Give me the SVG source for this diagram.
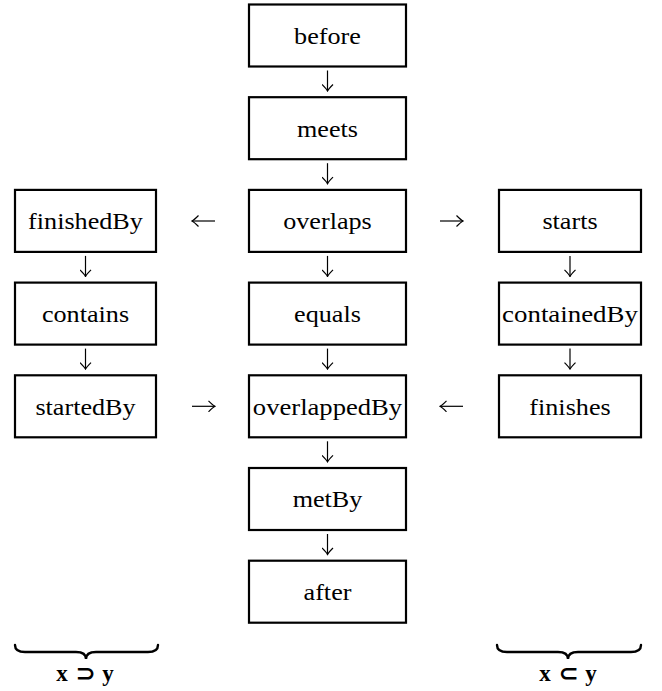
<svg xmlns="http://www.w3.org/2000/svg" width="662" height="691" viewBox="0 0 662 691">
<style>
.box{fill:#fff;stroke:#000;stroke-width:2.2}
text{font-family:'Liberation Serif','Times New Roman',Times,serif}
.lbl{font-size:24px;fill:#000;text-anchor:middle}
.math{font-size:23px;font-weight:bold;fill:#000;text-anchor:middle;word-spacing:2px}
.arr{stroke:#000;stroke-width:1.2;fill:none;marker-end:url(#ah)}
.brace{stroke:#000;stroke-width:2.4;fill:none;stroke-linecap:round}
</style>
<defs>
<marker id="ah" viewBox="-8 -6 9 12" refX="0" refY="0" markerUnits="userSpaceOnUse" markerWidth="9" markerHeight="12" orient="auto">
<path d="M-6.5,-5.5 Q-2,-1 0,0 Q-2,1 -6.5,5.5" fill="none" stroke="#000" stroke-width="1.2"/>
</marker>
</defs>
<rect width="662" height="691" fill="#fff"/>
<g font-family="Liberation Serif, serif">
<g id="before"><rect class="box" x="249" y="4.5" width="157" height="62"/><text class="lbl" transform="translate(327.5,43.8) scale(1.09,1)">before</text></g>
<g id="meets"><rect class="box" x="249" y="97.2" width="157" height="62"/><text class="lbl" transform="translate(327.5,136.5) scale(1.09,1)">meets</text></g>
<g id="overlaps"><rect class="box" x="249" y="189.9" width="157" height="62"/><text class="lbl" transform="translate(327.5,229.2) scale(1.09,1)">overlaps</text></g>
<g id="equals"><rect class="box" x="249" y="282.6" width="157" height="62"/><text class="lbl" transform="translate(327.5,321.9) scale(1.09,1)">equals</text></g>
<g id="overlappedBy"><rect class="box" x="249" y="375.3" width="157" height="62"/><text class="lbl" transform="translate(327.5,414.6) scale(1.11,1)">overlappedBy</text></g>
<g id="metBy"><rect class="box" x="249" y="468" width="157" height="62"/><text class="lbl" transform="translate(327.5,507.3) scale(1.09,1)">metBy</text></g>
<g id="after"><rect class="box" x="249" y="560.7" width="157" height="62"/><text class="lbl" transform="translate(327.5,600) scale(1.09,1)">after</text></g>
<g id="finishedBy"><rect class="box" x="15" y="189.9" width="141" height="62"/><text class="lbl" transform="translate(85.5,229.2) scale(1.09,1)">finishedBy</text></g>
<g id="contains"><rect class="box" x="15" y="282.6" width="141" height="62"/><text class="lbl" transform="translate(85.5,321.9) scale(1.09,1)">contains</text></g>
<g id="startedBy"><rect class="box" x="15" y="375.3" width="141" height="62"/><text class="lbl" transform="translate(85.5,414.6) scale(1.09,1)">startedBy</text></g>
<g id="starts"><rect class="box" x="499" y="189.9" width="142" height="62"/><text class="lbl" transform="translate(570,229.2) scale(1.09,1)">starts</text></g>
<g id="containedBy"><rect class="box" x="499" y="282.6" width="142" height="62"/><text class="lbl" transform="translate(570,321.9) scale(1.12,1)">containedBy</text></g>
<g id="finishes"><rect class="box" x="499" y="375.3" width="142" height="62"/><text class="lbl" transform="translate(570,414.6) scale(1.09,1)">finishes</text></g>
</g>
<g id="connectors">
<line class="arr" x1="327.5" y1="70.5" x2="327.5" y2="91"/>
<line class="arr" x1="327.5" y1="163.2" x2="327.5" y2="183.7"/>
<line class="arr" x1="327.5" y1="255.9" x2="327.5" y2="276.4"/>
<line class="arr" x1="327.5" y1="348.6" x2="327.5" y2="369.1"/>
<line class="arr" x1="327.5" y1="441.3" x2="327.5" y2="461.8"/>
<line class="arr" x1="327.5" y1="534" x2="327.5" y2="554.5"/>
<line class="arr" x1="85.5" y1="255.9" x2="85.5" y2="276.4"/>
<line class="arr" x1="85.5" y1="348.6" x2="85.5" y2="369.1"/>
<line class="arr" x1="570" y1="255.9" x2="570" y2="276.4"/>
<line class="arr" x1="570" y1="348.6" x2="570" y2="369.1"/>
<line class="arr" x1="215" y1="221" x2="192" y2="221"/>
<line class="arr" x1="440" y1="221" x2="463" y2="221"/>
<line class="arr" x1="192" y1="406.3" x2="215" y2="406.3"/>
<line class="arr" x1="463" y1="406.3" x2="440" y2="406.3"/>
</g>
<g id="brace-left">
<path class="brace" d="M15,645 Q15,652 25,652 L76,652 Q86,652 86,659 Q86,652 96,652 L148,652 Q158,652 158,645"/>
<text class="math" x="85" y="681">x ⊃ y</text>
</g>
<g id="brace-right">
<path class="brace" d="M497,645 Q497,652 507,652 L558,652 Q568,652 568,659 Q568,652 578,652 L631,652 Q641,652 641,645"/>
<text class="math" x="568" y="681">x ⊂ y</text>
</g>
</svg>
